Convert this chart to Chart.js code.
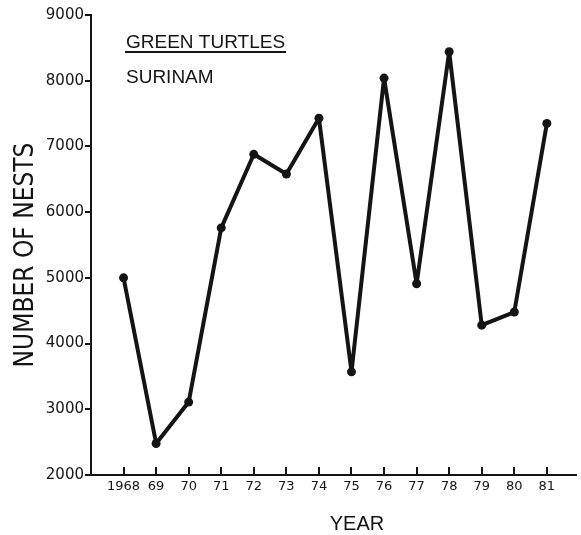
<!DOCTYPE html>
<html>
<head>
<meta charset="utf-8">
<script src="https://cdn.jsdelivr.net/npm/chart.js@4.4.1/dist/chart.umd.min.js"></script>
<style>
  html, body { margin: 0; padding: 0; background: #ffffff; }
  #wrap { width: 581px; height: 535px; position: relative; }
</style>
</head>
<body>
<div id="wrap"><canvas id="chart" width="581" height="535"></canvas></div>
<script>
// Green turtle nest counts, Surinam
const years = [1968, 1969, 1970, 1971, 1972, 1973, 1974, 1975, 1976, 1977, 1978, 1979, 1980, 1981];
const nests = [5000, 2480, 3110, 5760, 6880, 6580, 7430, 3570, 8040, 4910, 8440, 4280, 4480, 7350];
const yTicks = [2000, 3000, 4000, 5000, 6000, 7000, 8000, 9000];
const yearLabels = ['1968', '69', '70', '71', '72', '73', '74', '75', '76', '77', '78', '79', '80', '81'];

const heading = 'GREEN TURTLES';
const subheading = 'SURINAM';
const yTitle = 'NUMBER OF NESTS';
const xTitle = 'YEAR';

const INK = '#141414';
const TICK_FONT = '"DejaVu Sans", sans-serif';
const TITLE_FONT = '"Liberation Sans", Arial, sans-serif';
const NARROW_FONT = '"Liberation Sans Narrow", "DejaVu Sans Condensed", "Liberation Sans", sans-serif';

// Year ticks point up into the plot from the x axis; texts are placed by hand
const decorations = {
  id: 'decorations',
  afterDraw(chart) {
    const ctx = chart.ctx;
    const x = chart.scales.x;
    const area = chart.chartArea;
    ctx.save();
    ctx.strokeStyle = INK;
    ctx.lineWidth = 2;
    years.forEach(yr => {
      const px = Math.round(x.getPixelForValue(yr));
      ctx.beginPath();
      ctx.moveTo(px, area.bottom);
      ctx.lineTo(px, area.bottom - 8);
      ctx.stroke();
    });

    ctx.fillStyle = INK;
    ctx.textBaseline = 'alphabetic';
    ctx.textAlign = 'left';
    ctx.font = '19px ' + TITLE_FONT;
    ctx.fillText(heading, 126, 48);
    const w = ctx.measureText(heading).width;
    ctx.lineWidth = 2;
    ctx.beginPath();
    ctx.moveTo(125, 52);
    ctx.lineTo(127 + w, 52);
    ctx.stroke();
    ctx.fillText(subheading, 126, 83);

    ctx.font = '20px ' + TITLE_FONT;
    ctx.textAlign = 'center';
    ctx.fillText(xTitle, 357, 530);

    ctx.save();
    ctx.translate(33, 255);
    ctx.rotate(-Math.PI / 2);
    ctx.font = '26px ' + NARROW_FONT;
    ctx.textAlign = 'center';
    ctx.fillText(yTitle, 0, 0);
    ctx.restore();
    ctx.restore();
  }
};

new Chart(document.getElementById('chart'), {
  type: 'line',
  data: {
    datasets: [{
      data: years.map((yr, i) => ({ x: yr, y: nests[i] })),
      borderColor: INK,
      backgroundColor: INK,
      borderWidth: 4,
      borderJoinStyle: 'round',
      borderCapStyle: 'round',
      pointRadius: 4.5,
      pointBorderWidth: 0,
      pointBackgroundColor: INK,
      tension: 0,
      fill: false
    }]
  },
  options: {
    responsive: false,
    animation: false,
    devicePixelRatio: 1,
    layout: { padding: { top: 15, right: 0, bottom: 0, left: 0 } },
    plugins: { legend: { display: false }, tooltip: { enabled: false } },
    scales: {
      x: {
        type: 'linear',
        min: 1967,
        max: 1981.91,
        afterBuildTicks(scale) { scale.ticks = years.map(v => ({ value: v })); },
        afterFit(scale) { scale.height = 60; },
        border: { display: true, color: INK, width: 2 },
        grid: { display: false, drawOnChartArea: false, drawTicks: false },
        ticks: {
          color: INK,
          padding: 4,
          maxRotation: 0,
          autoSkip: false,
          font: { family: TICK_FONT, size: 13 },
          callback: (v) => yearLabels[years.indexOf(v)]
        }
      },
      y: {
        type: 'linear',
        min: 2000,
        max: 9000,
        afterBuildTicks(scale) { scale.ticks = yTicks.map(v => ({ value: v })); },
        afterFit(scale) { scale.width = 91; },
        border: { display: true, color: INK, width: 2 },
        grid: { drawOnChartArea: false, drawTicks: true, tickLength: 6, color: INK, lineWidth: 2 },
        ticks: {
          color: INK,
          padding: 1,
          font: { family: TICK_FONT, size: 15 },
          callback: (v) => String(v)
        }
      }
    }
  },
  plugins: [decorations]
});
</script>
</body>
</html>
